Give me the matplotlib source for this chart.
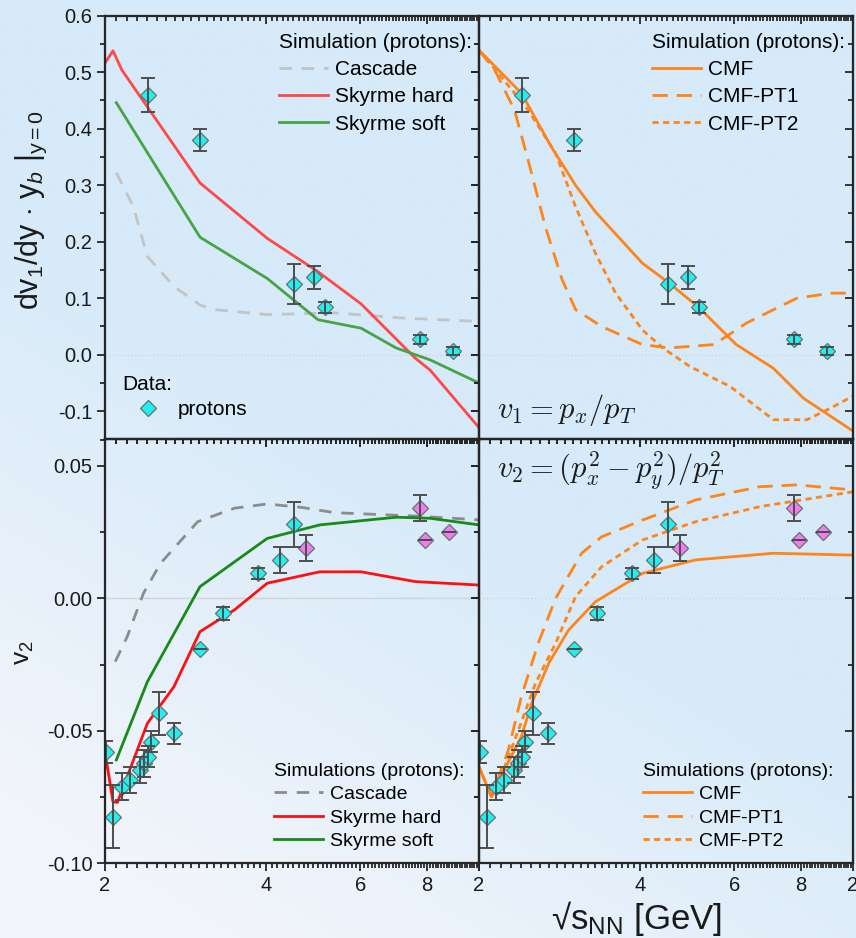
import numpy as np
import matplotlib
matplotlib.use("Agg")
import matplotlib.pyplot as plt
from matplotlib.ticker import FixedLocator, FixedFormatter, MultipleLocator, NullFormatter, FormatStrFormatter
from matplotlib.lines import Line2D

plt.rcParams['font.family'] = ['Liberation Sans', 'DejaVu Sans']
plt.rcParams['mathtext.fontset'] = 'custom'
plt.rcParams['mathtext.rm'] = 'Liberation Sans'
plt.rcParams['mathtext.it'] = 'Liberation Sans:italic'
plt.rcParams['mathtext.sf'] = 'Liberation Sans'
plt.rcParams['axes.unicode_minus'] = False

# ---------------- measured data ----------------
E_v1 = [2.41, 3.01, 4.52, 4.91, 5.16, 7.77, 8.94]
v1_data = [0.460, 0.380, 0.125, 0.137, 0.084, 0.027, 0.006]
v1_err = [0.030, 0.020, 0.036, 0.020, 0.010, 0.008, 0.007]

E_v2 = [2.01, 2.07, 2.15, 2.23, 2.33, 2.37, 2.41, 2.44, 2.52, 2.69, 3.01, 3.33, 3.86, 4.25, 4.52]
v2_data = [-0.058, -0.0824, -0.0711, -0.0686, -0.0647, -0.0623, -0.0598, -0.0541, -0.0434,
           -0.051, -0.0191, -0.0057, 0.0094, 0.0145, 0.0279]
v2_err = [0.004, 0.012, 0.005, 0.005, 0.005, 0.005, 0.004, 0.004, 0.008, 0.004, 0.0,
          0.0025, 0.002, 0.005, 0.0084]

E_v2_b = [4.74, 7.75, 7.94, 8.79]
v2_data_b = [0.0189, 0.034, 0.022, 0.0251]
v2_err_b = [0.005, 0.005, 0.0, 0.0]

# ---------------- simulations: v1 slope ----------------
E_casc_v1 = [2.10, 2.26, 2.40, 2.69, 3.01, 3.20, 4.02, 5.38, 7.18, 10.0]
casc_v1 = [0.322, 0.262, 0.174, 0.121, 0.088, 0.080, 0.071, 0.074, 0.065, 0.059]
E_hard_v1 = [2.0, 2.07, 2.15, 3.01, 4.02, 5.0, 6.02, 7.6, 8.1, 10.0]
hard_v1 = [0.516, 0.538, 0.504, 0.304, 0.206, 0.147, 0.090, -0.006, -0.027, -0.129]
E_soft_v1 = [2.10, 3.01, 4.02, 5.0, 6.02, 7.0, 8.1, 10.0]
soft_v1 = [0.446, 0.208, 0.135, 0.062, 0.047, 0.012, -0.009, -0.050]

E_cmf_v1 = [2.0, 2.40, 2.73, 3.03, 3.30, 4.04, 4.53, 5.16, 6.05, 7.1, 8.08, 10.0]
cmf_v1 = [0.539, 0.463, 0.368, 0.300, 0.253, 0.162, 0.127, 0.083, 0.018, -0.024, -0.077, -0.135]
E_pt1_v1 = [2.0, 2.14, 2.33, 2.47, 2.66, 2.86, 3.03, 3.39, 4.04, 4.53, 5.5, 6.32, 7.85, 9.1, 10.0]
pt1_v1 = [0.539, 0.504, 0.433, 0.345, 0.227, 0.133, 0.080, 0.050, 0.018, 0.012, 0.018, 0.056,
          0.100, 0.109, 0.109]
E_pt2_v1 = [2.0, 2.2, 2.47, 2.78, 3.03, 3.30, 3.60, 4.04, 4.41, 4.96, 5.89, 7.1, 8.2, 9.1, 10.0]
pt2_v1 = [0.539, 0.492, 0.433, 0.357, 0.262, 0.180, 0.109, 0.044, 0.012, -0.021, -0.056,
          -0.115, -0.115, -0.094, -0.073]

# ---------------- simulations: v2 ----------------
E_casc_v2 = [2.09, 2.20, 2.36, 2.54, 2.98, 3.49, 4.02, 4.66, 5.38, 7.7, 10.0]
casc_v2 = [-0.0239, -0.0145, 0.0019, 0.0132, 0.0289, 0.0340, 0.0356, 0.0343, 0.0323, 0.0310, 0.0296]
E_hard_v2 = [2.0, 2.07, 2.11, 2.40, 2.69, 3.01, 3.49, 4.02, 5.04, 6.02, 7.6, 10.0]
hard_v2 = [-0.058, -0.0768, -0.077, -0.0472, -0.0334, -0.0126, -0.0044, 0.0057, 0.0100,
           0.0100, 0.0063, 0.0050]
E_soft_v2 = [2.10, 2.40, 3.01, 4.02, 5.04, 7.0, 8.1, 10.0]
soft_v2 = [-0.061, -0.0315, 0.0044, 0.0226, 0.0277, 0.0306, 0.0302, 0.0277]

E_cmf_v2 = [2.0, 2.11, 2.23, 2.40, 2.51, 2.70, 2.94, 3.30, 4.04, 5.08, 7.1, 10.0]
cmf_v2 = [-0.0636, -0.0749, -0.0648, -0.0522, -0.0396, -0.0245, -0.012, -0.0013, 0.0094,
          0.0145, 0.0170, 0.0163]
E_pt1_v2 = [2.0, 2.11, 2.27, 2.40, 2.58, 2.78, 3.11, 3.39, 4.04, 5.08, 6.7, 7.86, 10.0]
pt1_v2 = [-0.0636, -0.0749, -0.0572, -0.0371, -0.017, -0.0001, 0.017, 0.0232, 0.0295, 0.0371,
          0.0421, 0.0428, 0.0409]
E_pt2_v2 = [2.0, 2.11, 2.23, 2.37, 2.55, 2.78, 3.03, 3.39, 4.04, 5.08, 6.7, 10.0]
pt2_v2 = [-0.0636, -0.0749, -0.0640, -0.0497, -0.0321, -0.017, 0.0006, 0.0119, 0.022, 0.0289,
          0.0346, 0.0402]

x_ticks = [2, 4, 6, 8, 10]
x_minor = [round(v, 1) for v in np.arange(2.0, 10.01, 0.1)]

# ---------------- figure & background ----------------
W, H = 856, 938
fig = plt.figure(figsize=(W / 100, H / 100), dpi=100)
bg = fig.add_axes([0, 0, 1, 1], zorder=-10)
yy, xx = np.mgrid[0:1:300j, 0:1:300j]
t = np.clip(1.6 * yy - 0.9 * xx - 0.35, 0, 1)
top_col = np.array([214, 234, 249]) / 255
bot_col = np.array([242, 245, 251]) / 255
img = top_col[None, None, :] * (1 - t[..., None]) + bot_col[None, None, :] * t[..., None]
bg.imshow(img, aspect='auto', extent=[0, 1, 0, 1], origin='upper')
bg.axis('off')

xl, xr = 105 / W, 479 / W
pw = 374 / W
ax_tl = fig.add_axes([xl, 1 - 439.5 / H, pw, 423.8 / H])
ax_tr = fig.add_axes([xr, 1 - 439.5 / H, pw, 423.8 / H])
ax_bl = fig.add_axes([xl, 1 - 863.3 / H, pw, 424.0 / H])
ax_br = fig.add_axes([xr, 1 - 863.3 / H, pw, 424.0 / H])

SP = '#262626'
TXT = '#1a1a1a'


def style(ax, ylim, ymaj, ymin_step, yfmt, ylabels, xlabels):
    ax.set_facecolor('none')
    ax.set_xscale('log')
    ax.set_xlim(2, 10)
    ax.set_ylim(*ylim)
    ax.xaxis.set_major_locator(FixedLocator(x_ticks))
    ax.xaxis.set_minor_locator(FixedLocator(x_minor))
    ax.xaxis.set_minor_formatter(NullFormatter())
    ax.xaxis.set_major_formatter(FixedFormatter(xlabels if xlabels else [''] * 5))
    ax.yaxis.set_major_locator(MultipleLocator(ymaj))
    ax.yaxis.set_minor_locator(MultipleLocator(ymin_step))
    if ylabels:
        ax.yaxis.set_major_formatter(FormatStrFormatter(yfmt))
    else:
        ax.yaxis.set_major_formatter(NullFormatter())
    ax.tick_params(which='both', direction='out', color=SP, width=1.3, labelsize=14.5,
                   labelcolor=TXT, pad=3)
    ax.tick_params(which='major', length=6)
    ax.tick_params(which='minor', length=3.5)
    for s in ax.spines.values():
        s.set_color(SP)
        s.set_linewidth(1.5)
    # inward ticks along top and right edges
    tw = ax.twiny()
    tw.set_xscale('log')
    tw.set_xlim(2, 10)
    tw.xaxis.set_major_locator(FixedLocator(x_ticks))
    tw.xaxis.set_minor_locator(FixedLocator(x_minor))
    tw.xaxis.set_major_formatter(NullFormatter())
    tw.xaxis.set_minor_formatter(NullFormatter())
    tw.tick_params(which='both', direction='in', color=SP, width=1.3)
    tw.tick_params(which='major', length=6)
    tw.tick_params(which='minor', length=3.5)
    ty = ax.twinx()
    ty.set_ylim(*ylim)
    ty.yaxis.set_major_locator(MultipleLocator(ymaj))
    ty.yaxis.set_minor_locator(MultipleLocator(ymin_step))
    ty.yaxis.set_major_formatter(NullFormatter())
    ty.tick_params(which='both', direction='in', color=SP, width=1.3)
    ty.tick_params(which='major', length=6)
    ty.tick_params(which='minor', length=3.5)
    for a in (tw, ty):
        for s in a.spines.values():
            s.set_color(SP)
            s.set_linewidth(1.5)


style(ax_tl, (-0.15, 0.6), 0.1, 0.05, '%.1f', True, None)
style(ax_tr, (-0.15, 0.6), 0.1, 0.05, '%.1f', False, None)
style(ax_bl, (-0.10, 0.06), 0.05, 0.025, '%.2f', True, ['2', '4', '6', '8', ''])
style(ax_br, (-0.10, 0.06), 0.05, 0.025, '%.2f', False, ['2', '4', '6', '8', '2'])

for ax, ls in ((ax_tl, ':'), (ax_tr, ':'), (ax_bl, '-'), (ax_br, ':')):
    ax.axhline(0, color='#d4d4d4', lw=1.0, ls=ls, zorder=1)

LW = 2.0
ORANGE = '#ff8419'
DASH_LONG = (0, (5.5, 3.2))
DASH_SHORT = (0, (2.2, 1.6))
DASH_CASC = (0, (4.5, 3.5))

# top-left curves
ax_tl.plot(E_casc_v1, casc_v1, color='#c4c4c4', lw=LW, ls=DASH_CASC, label='Cascade')
ax_tl.plot(E_hard_v1, hard_v1, color='#ff4848', lw=LW, label='Skyrme hard')
ax_tl.plot(E_soft_v1, soft_v1, color='#46a446', lw=LW, label='Skyrme soft')
# top-right curves
ax_tr.plot(E_cmf_v1, cmf_v1, color=ORANGE, lw=LW, label='CMF')
ax_tr.plot(E_pt1_v1, pt1_v1, color=ORANGE, lw=LW, ls=DASH_LONG, label='CMF-PT1')
ax_tr.plot(E_pt2_v1, pt2_v1, color=ORANGE, lw=LW, ls=DASH_SHORT, label='CMF-PT2')
# bottom-left curves
ax_bl.plot(E_casc_v2, casc_v2, color='#8c8c8c', lw=LW, ls=DASH_CASC, label='Cascade')
ax_bl.plot(E_hard_v2, hard_v2, color='#ff1010', lw=LW, label='Skyrme hard')
ax_bl.plot(E_soft_v2, soft_v2, color='#188a18', lw=LW, label='Skyrme soft')
# bottom-right curves
ax_br.plot(E_cmf_v2, cmf_v2, color=ORANGE, lw=LW, label='CMF')
ax_br.plot(E_pt1_v2, pt1_v2, color=ORANGE, lw=LW, ls=DASH_LONG, label='CMF-PT1')
ax_br.plot(E_pt2_v2, pt2_v2, color=ORANGE, lw=LW, ls=DASH_SHORT, label='CMF-PT2')

CYAN = '#1ff0f0'
VIOLET = '#f07cf0'
EC = '#4d4d4d'
MS = 8.6


def data(ax, E, v, err, fc):
    ax.plot(E, v, ls='none', marker='D', ms=MS, mfc=fc, mec='#667070', mew=0.9, zorder=5)
    ax.errorbar(E, v, yerr=err, fmt='none', ecolor=EC, elinewidth=1.4, capsize=4.8,
                capthick=1.4, zorder=6)


for ax in (ax_tl, ax_tr):
    data(ax, E_v1, v1_data, v1_err, CYAN)
for ax in (ax_bl, ax_br):
    data(ax, E_v2, v2_data, v2_err, CYAN)
    data(ax, E_v2_b, v2_data_b, v2_err_b, VIOLET)

FS_TOP = 15
FS_BOT = 14
leg_top = dict(frameon=False, fontsize=FS_TOP, title_fontsize=FS_TOP, handlelength=2.35,
               handletextpad=0.33, borderaxespad=0.0, borderpad=0.0, alignment='left')
leg_bot = dict(frameon=False, fontsize=FS_BOT, title_fontsize=FS_BOT, handlelength=2.55,
               handletextpad=0.36, borderaxespad=0.0, borderpad=0.0, alignment='left')

# data legend
h_data = Line2D([], [], ls='none', marker='D', ms=MS, mfc=CYAN, mec='#667070', mew=0.9)
leg_d = ax_tl.legend([h_data], ['protons'], loc='lower left', bbox_to_anchor=(0.045, 0.048),
                     frameon=False, fontsize=FS_TOP, title='Data:', title_fontsize=FS_TOP,
                     handlelength=2.5, handletextpad=0.2, borderaxespad=0.0, borderpad=0.0,
                     labelspacing=0.3, alignment='left')
ax_tl.add_artist(leg_d)

ax_tl.legend(loc='upper right', bbox_to_anchor=(0.981, 0.960), labelspacing=0.4,
             title='Simulation (protons):', **leg_top)
ax_tr.legend(loc='upper right', bbox_to_anchor=(0.979, 0.960), labelspacing=0.4,
             title='Simulation (protons):', **leg_top)
ax_bl.legend(loc='lower right', bbox_to_anchor=(0.960, 0.031), labelspacing=0.3,
             title='Simulations (protons):', **leg_bot)
ax_br.legend(loc='lower right', bbox_to_anchor=(0.947, 0.031), labelspacing=0.3,
             title='Simulations (protons):', **leg_bot)

t1 = ax_tr.text(0.048, 0.027, r'$v_1 = p_x/p_T$', transform=ax_tr.transAxes, fontsize=22,
                ha='left', va='bottom', color=TXT)
t1.set_math_fontfamily('cm')
t2 = ax_br.text(0.048, 0.975, r'$v_2 = (p_x^2 - p_y^2)/p_T^2$', transform=ax_br.transAxes,
                fontsize=22, ha='left', va='top', color=TXT)
t2.set_math_fontfamily('cm')

fig.text(31 / W, 1 - 210 / H, r'dv$_1$/dy $\cdot$ y$_{\mathit{b}}$ |$_{\mathrm{y=0}}$',
         rotation=90, ha='center', va='center', fontsize=22, color=TXT)
fig.text(24 / W, 1 - 653 / H, r'v$_2$', rotation=90, ha='center', va='center',
         fontsize=19, color=TXT)
fig.text(636 / W, 1 - 929 / H, r'√s$_{\mathrm{NN}}$ [GeV]', ha='center', va='baseline',
         fontsize=25, color=TXT)

fig.savefig('out.png', dpi=100)
